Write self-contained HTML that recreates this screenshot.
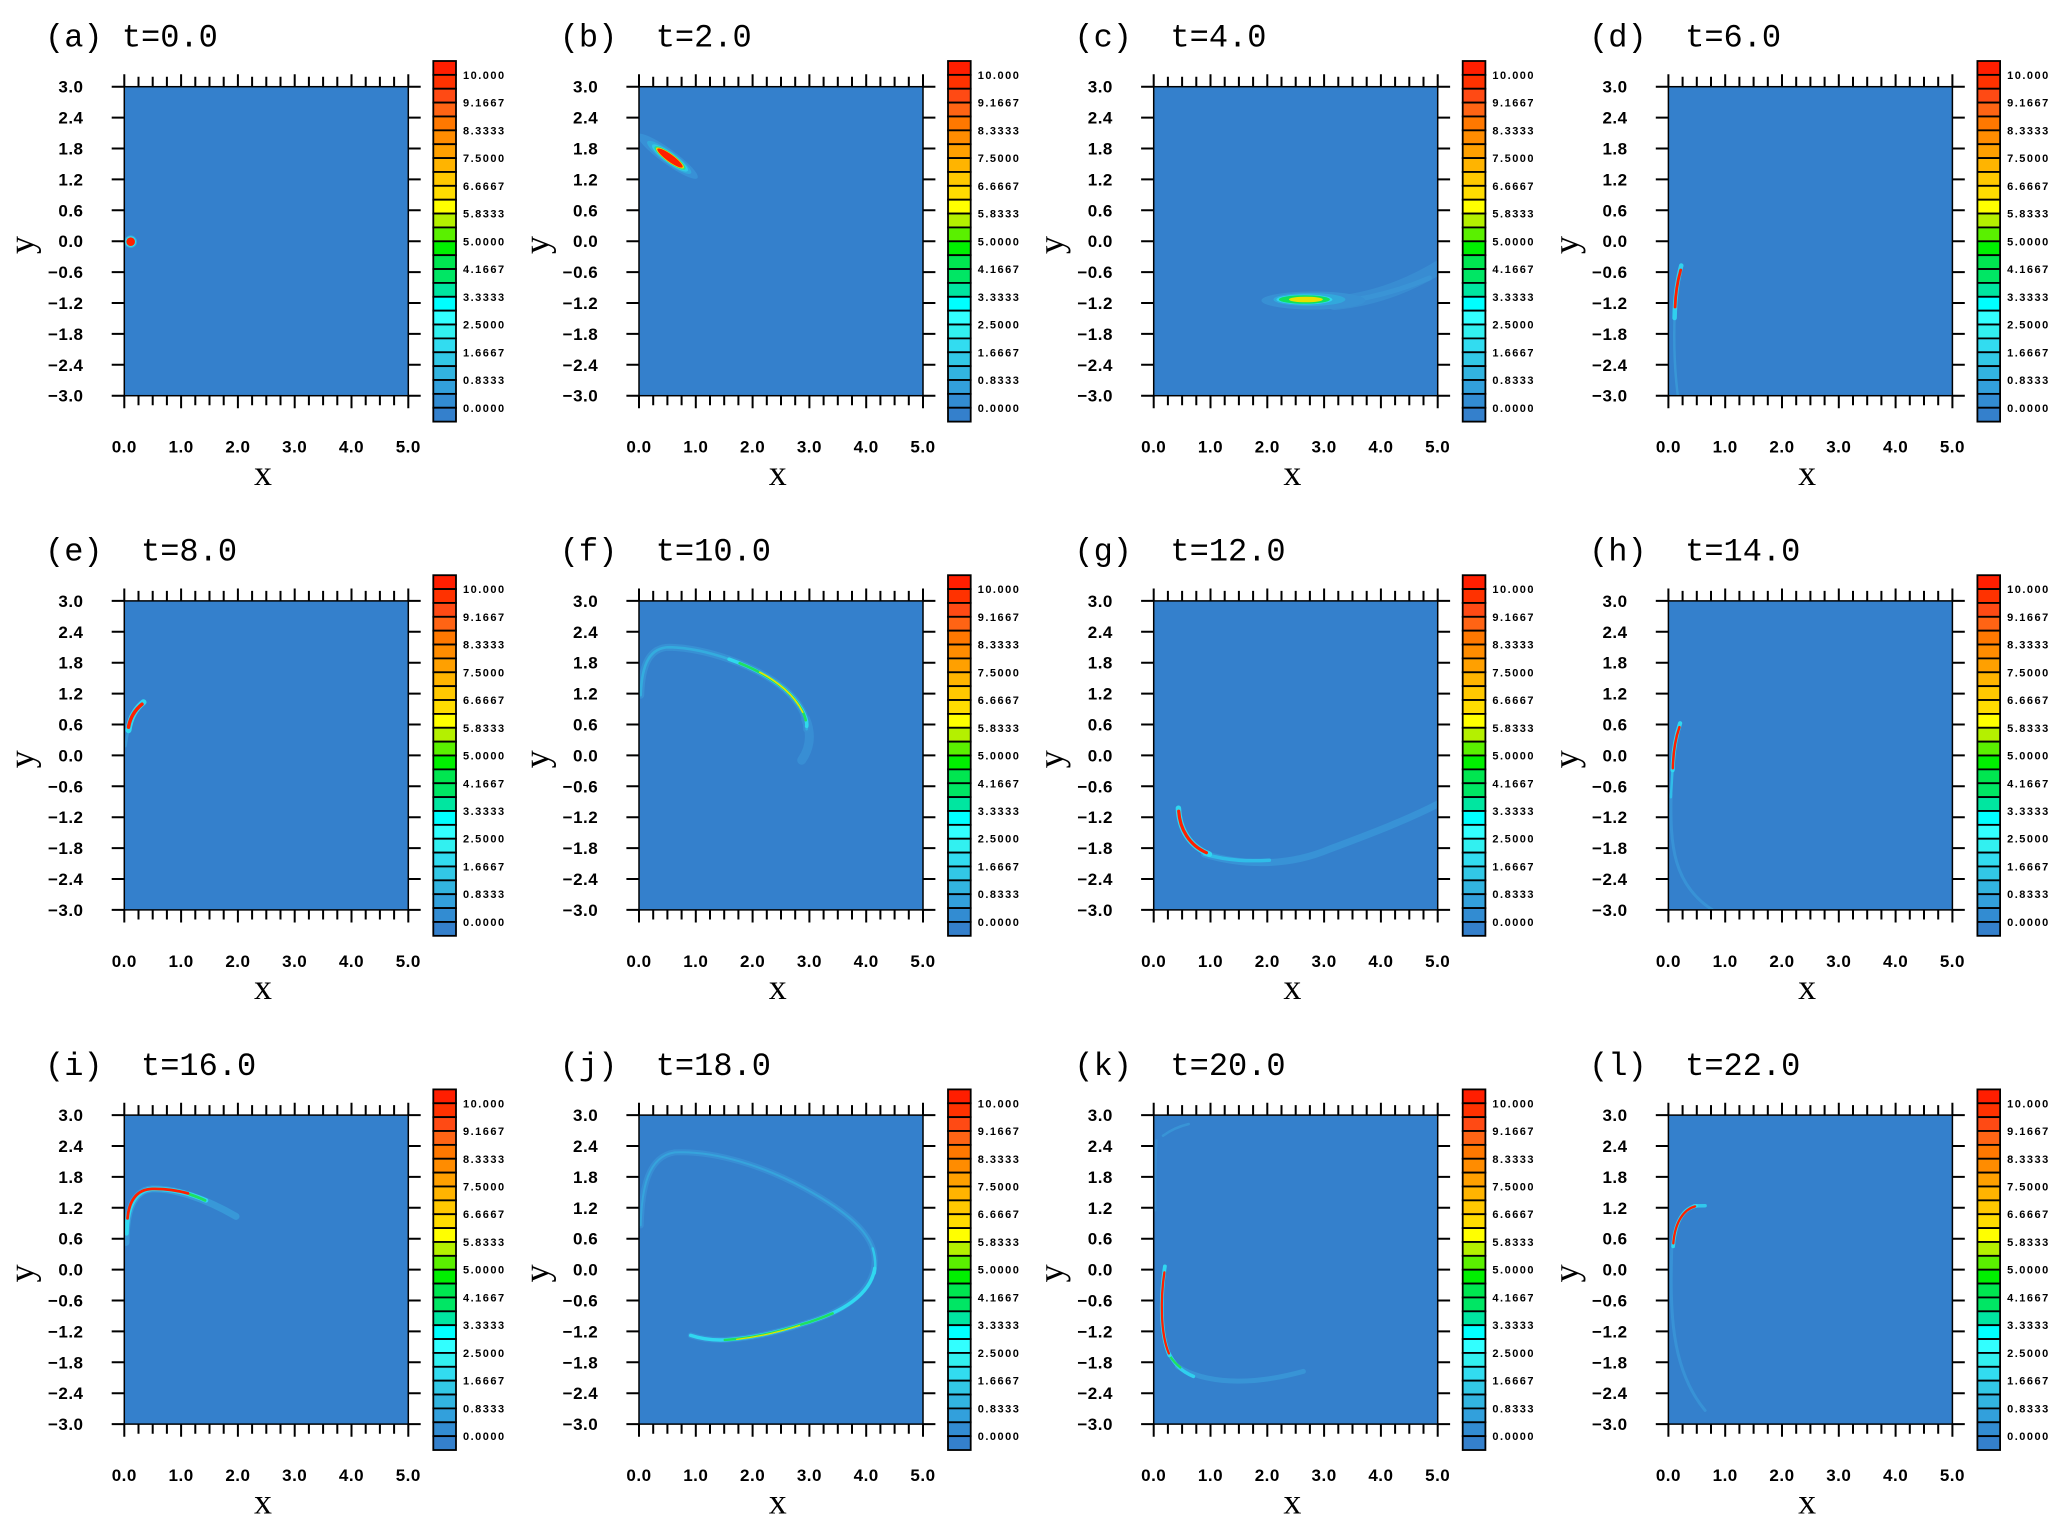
<!DOCTYPE html>
<html>
<head>
<meta charset="utf-8">
<style>
html,body{margin:0;padding:0;background:#fff;}
svg{display:block;}
.t{font-family:"Liberation Mono",monospace;font-size:32px;white-space:pre;fill:#000;}
.yl{font-family:"Liberation Sans",sans-serif;font-weight:bold;font-size:17px;text-anchor:end;letter-spacing:0.5px;fill:#000;}
.xl{font-family:"Liberation Sans",sans-serif;font-weight:bold;font-size:17px;text-anchor:middle;letter-spacing:0.5px;fill:#000;}
.cl{font-family:"Liberation Sans",sans-serif;font-weight:bold;font-size:11px;letter-spacing:1.5px;fill:#000;}
.ax{font-family:"Liberation Serif",serif;font-size:36px;text-anchor:middle;fill:#000;}
.s{fill:none;stroke-linecap:round;stroke-linejoin:round;}
</style>
</head>
<body>
<svg width="2067" height="1532" viewBox="0 0 2067 1532" xmlns="http://www.w3.org/2000/svg" xmlns:xlink="http://www.w3.org/1999/xlink">
<defs>
<clipPath id="pc"><rect x="124.3" y="86.7" width="284" height="309"/></clipPath>
<rect id="bg" x="124.3" y="86.7" width="284" height="309" fill="#3480cc"/>
<g id="ax">
<rect x="124.3" y="86.7" width="284" height="309" fill="none" stroke="#000" stroke-width="1.5"/>
<path fill="none" stroke="#000" stroke-width="2" d="M124.3 86.7V74.3M181.1 86.7V74.3M237.9 86.7V74.3M294.7 86.7V74.3M351.5 86.7V74.3M408.3 86.7V74.3M138.5 86.7V76.7M152.7 86.7V76.7M166.9 86.7V76.7M195.3 86.7V76.7M209.5 86.7V76.7M223.7 86.7V76.7M252.1 86.7V76.7M266.3 86.7V76.7M280.5 86.7V76.7M308.9 86.7V76.7M323.1 86.7V76.7M337.3 86.7V76.7M365.7 86.7V76.7M379.9 86.7V76.7M394.1 86.7V76.7M124.3 395.7V408.3M181.1 395.7V408.3M237.9 395.7V408.3M294.7 395.7V408.3M351.5 395.7V408.3M408.3 395.7V408.3M138.5 395.7V405.3M152.7 395.7V405.3M166.9 395.7V405.3M195.3 395.7V405.3M209.5 395.7V405.3M223.7 395.7V405.3M252.1 395.7V405.3M266.3 395.7V405.3M280.5 395.7V405.3M308.9 395.7V405.3M323.1 395.7V405.3M337.3 395.7V405.3M365.7 395.7V405.3M379.9 395.7V405.3M394.1 395.7V405.3M111.7 86.7H124.3M111.7 117.6H124.3M111.7 148.5H124.3M111.7 179.4H124.3M111.7 210.3H124.3M111.7 241.2H124.3M111.7 272.1H124.3M111.7 303H124.3M111.7 333.9H124.3M111.7 364.8H124.3M111.7 395.7H124.3M408.3 86.7H420.7M408.3 117.6H420.7M408.3 148.5H420.7M408.3 179.4H420.7M408.3 210.3H420.7M408.3 241.2H420.7M408.3 272.1H420.7M408.3 303H420.7M408.3 333.9H420.7M408.3 364.8H420.7M408.3 395.7H420.7"/>
</g>
<g id="cb" stroke="#000" stroke-width="1.8">
<rect x="433.3" y="61" width="22.7" height="13.87" fill="#ff1e00"/>
<rect x="433.3" y="74.87" width="22.7" height="13.87" fill="#ff3200"/>
<rect x="433.3" y="88.74" width="22.7" height="13.87" fill="#ff4a14"/>
<rect x="433.3" y="102.61" width="22.7" height="13.87" fill="#ff6414"/>
<rect x="433.3" y="116.48" width="22.7" height="13.87" fill="#ff7800"/>
<rect x="433.3" y="130.35" width="22.7" height="13.87" fill="#ff8c00"/>
<rect x="433.3" y="144.22" width="22.7" height="13.87" fill="#ffa000"/>
<rect x="433.3" y="158.09" width="22.7" height="13.87" fill="#ffb400"/>
<rect x="433.3" y="171.96" width="22.7" height="13.87" fill="#ffc800"/>
<rect x="433.3" y="185.83" width="22.7" height="13.87" fill="#ffdc00"/>
<rect x="433.3" y="199.7" width="22.7" height="13.87" fill="#ffff00"/>
<rect x="433.3" y="213.57" width="22.7" height="13.87" fill="#b4f000"/>
<rect x="433.3" y="227.44" width="22.7" height="13.87" fill="#5af000"/>
<rect x="433.3" y="241.31" width="22.7" height="13.87" fill="#00f000"/>
<rect x="433.3" y="255.18" width="22.7" height="13.87" fill="#00e650"/>
<rect x="433.3" y="269.05" width="22.7" height="13.87" fill="#00e664"/>
<rect x="433.3" y="282.92" width="22.7" height="13.87" fill="#00e6a0"/>
<rect x="433.3" y="296.79" width="22.7" height="13.87" fill="#00ffff"/>
<rect x="433.3" y="310.66" width="22.7" height="13.87" fill="#32ffff"/>
<rect x="433.3" y="324.53" width="22.7" height="13.87" fill="#32f0f0"/>
<rect x="433.3" y="338.4" width="22.7" height="13.87" fill="#32dcf0"/>
<rect x="433.3" y="352.27" width="22.7" height="13.87" fill="#32c8e6"/>
<rect x="433.3" y="366.14" width="22.7" height="13.87" fill="#32b4e0"/>
<rect x="433.3" y="380.01" width="22.7" height="13.87" fill="#32a0dc"/>
<rect x="433.3" y="393.88" width="22.7" height="13.87" fill="#328cd2"/>
<rect x="433.3" y="407.75" width="22.7" height="13.87" fill="#3480cc"/>
</g>
</defs>

<!-- (a) -->
<g transform="translate(0,0)">
<use href="#bg" xlink:href="#bg"/>
<g clip-path="url(#pc)">
<circle cx="130.7" cy="241.7" r="6.3" fill="#32a8dc"/>
<circle cx="130.7" cy="241.7" r="5.3" fill="#30e0f0"/>
<circle cx="130.7" cy="241.7" r="4.3" fill="#ff2000"/>
</g>
<use href="#ax" xlink:href="#ax"/>
<use href="#cb" xlink:href="#cb"/>
<text class="t" x="45" y="46.5">(a) t=0.0</text>
<text class="yl"><tspan x="83.5" y="92.7">3.0</tspan><tspan x="83.5" y="123.6">2.4</tspan><tspan x="83.5" y="154.5">1.8</tspan><tspan x="83.5" y="185.4">1.2</tspan><tspan x="83.5" y="216.3">0.6</tspan><tspan x="83.5" y="247.2">0.0</tspan><tspan x="83.5" y="278.1">−0.6</tspan><tspan x="83.5" y="309">−1.2</tspan><tspan x="83.5" y="339.9">−1.8</tspan><tspan x="83.5" y="370.8">−2.4</tspan><tspan x="83.5" y="401.7">−3.0</tspan></text>
<text class="xl"><tspan x="124.3" y="452.7">0.0</tspan><tspan x="181.1" y="452.7">1.0</tspan><tspan x="237.9" y="452.7">2.0</tspan><tspan x="294.7" y="452.7">3.0</tspan><tspan x="351.5" y="452.7">4.0</tspan><tspan x="408.3" y="452.7">5.0</tspan></text>
<text class="cl"><tspan x="463" y="78.9">10.000</tspan><tspan x="463" y="106.6">9.1667</tspan><tspan x="463" y="134.4">8.3333</tspan><tspan x="463" y="162.1">7.5000</tspan><tspan x="463" y="189.8">6.6667</tspan><tspan x="463" y="217.6">5.8333</tspan><tspan x="463" y="245.3">5.0000</tspan><tspan x="463" y="273.1">4.1667</tspan><tspan x="463" y="300.8">3.3333</tspan><tspan x="463" y="328.5">2.5000</tspan><tspan x="463" y="356.3">1.6667</tspan><tspan x="463" y="384">0.8333</tspan><tspan x="463" y="411.8">0.0000</tspan></text>
<text class="ax" x="263" y="485">x</text>
<text class="ax" transform="translate(33.7,245) rotate(-90)">y</text>
</g>

<!-- (b) -->
<g transform="translate(514.7,0)">
<use href="#bg" xlink:href="#bg"/>
<g clip-path="url(#pc)">
<g transform="translate(155.3,158) rotate(36)">
<ellipse cx="-3" cy="0" rx="37" ry="7.5" fill="#3890d6"/>
<ellipse cx="-1" cy="0" rx="27" ry="6" fill="#32a8dc"/>
<ellipse cx="0" cy="0" rx="22" ry="5.3" fill="#32c8e6"/>
<ellipse cx="0" cy="0" rx="19" ry="4.7" fill="#20e090"/>
<ellipse cx="0" cy="0" rx="17" ry="4.1" fill="#ffd000"/>
<ellipse cx="0" cy="0" rx="15.5" ry="3.5" fill="#ff2000"/>
</g>
</g>
<use href="#ax" xlink:href="#ax"/>
<use href="#cb" xlink:href="#cb"/>
<text class="t" x="45" y="46.5">(b)  t=2.0</text>
<text class="yl"><tspan x="83.5" y="92.7">3.0</tspan><tspan x="83.5" y="123.6">2.4</tspan><tspan x="83.5" y="154.5">1.8</tspan><tspan x="83.5" y="185.4">1.2</tspan><tspan x="83.5" y="216.3">0.6</tspan><tspan x="83.5" y="247.2">0.0</tspan><tspan x="83.5" y="278.1">−0.6</tspan><tspan x="83.5" y="309">−1.2</tspan><tspan x="83.5" y="339.9">−1.8</tspan><tspan x="83.5" y="370.8">−2.4</tspan><tspan x="83.5" y="401.7">−3.0</tspan></text>
<text class="xl"><tspan x="124.3" y="452.7">0.0</tspan><tspan x="181.1" y="452.7">1.0</tspan><tspan x="237.9" y="452.7">2.0</tspan><tspan x="294.7" y="452.7">3.0</tspan><tspan x="351.5" y="452.7">4.0</tspan><tspan x="408.3" y="452.7">5.0</tspan></text>
<text class="cl"><tspan x="463" y="78.9">10.000</tspan><tspan x="463" y="106.6">9.1667</tspan><tspan x="463" y="134.4">8.3333</tspan><tspan x="463" y="162.1">7.5000</tspan><tspan x="463" y="189.8">6.6667</tspan><tspan x="463" y="217.6">5.8333</tspan><tspan x="463" y="245.3">5.0000</tspan><tspan x="463" y="273.1">4.1667</tspan><tspan x="463" y="300.8">3.3333</tspan><tspan x="463" y="328.5">2.5000</tspan><tspan x="463" y="356.3">1.6667</tspan><tspan x="463" y="384">0.8333</tspan><tspan x="463" y="411.8">0.0000</tspan></text>
<text class="ax" x="263" y="485">x</text>
<text class="ax" transform="translate(33.7,245) rotate(-90)">y</text>
</g>

<!-- (c) -->
<g transform="translate(1029.4,0)">
<use href="#bg" xlink:href="#bg"/>
<g clip-path="url(#pc)">
<path class="s" d="M305,303 Q360,298 412,266" stroke="#388cd2" stroke-width="14"/>
<path class="s" d="M310,302 Q355,297 400,278" stroke="#3a94d6" stroke-width="5"/>
<g transform="translate(275,299.5)">
<ellipse cx="9" cy="1" rx="52" ry="9" fill="#3890d4"/>
<ellipse cx="5" cy="0" rx="36" ry="6.5" fill="#32a8dc"/>
<ellipse cx="0" cy="0" rx="28" ry="5" fill="#30d4ee"/>
<ellipse cx="0" cy="0" rx="25.5" ry="4.3" fill="#10e060"/>
<ellipse cx="1.5" cy="0" rx="17" ry="2.8" fill="#e8e000"/>
</g>
</g>
<use href="#ax" xlink:href="#ax"/>
<use href="#cb" xlink:href="#cb"/>
<text class="t" x="45" y="46.5">(c)  t=4.0</text>
<text class="yl"><tspan x="83.5" y="92.7">3.0</tspan><tspan x="83.5" y="123.6">2.4</tspan><tspan x="83.5" y="154.5">1.8</tspan><tspan x="83.5" y="185.4">1.2</tspan><tspan x="83.5" y="216.3">0.6</tspan><tspan x="83.5" y="247.2">0.0</tspan><tspan x="83.5" y="278.1">−0.6</tspan><tspan x="83.5" y="309">−1.2</tspan><tspan x="83.5" y="339.9">−1.8</tspan><tspan x="83.5" y="370.8">−2.4</tspan><tspan x="83.5" y="401.7">−3.0</tspan></text>
<text class="xl"><tspan x="124.3" y="452.7">0.0</tspan><tspan x="181.1" y="452.7">1.0</tspan><tspan x="237.9" y="452.7">2.0</tspan><tspan x="294.7" y="452.7">3.0</tspan><tspan x="351.5" y="452.7">4.0</tspan><tspan x="408.3" y="452.7">5.0</tspan></text>
<text class="cl"><tspan x="463" y="78.9">10.000</tspan><tspan x="463" y="106.6">9.1667</tspan><tspan x="463" y="134.4">8.3333</tspan><tspan x="463" y="162.1">7.5000</tspan><tspan x="463" y="189.8">6.6667</tspan><tspan x="463" y="217.6">5.8333</tspan><tspan x="463" y="245.3">5.0000</tspan><tspan x="463" y="273.1">4.1667</tspan><tspan x="463" y="300.8">3.3333</tspan><tspan x="463" y="328.5">2.5000</tspan><tspan x="463" y="356.3">1.6667</tspan><tspan x="463" y="384">0.8333</tspan><tspan x="463" y="411.8">0.0000</tspan></text>
<text class="ax" x="263" y="485">x</text>
<text class="ax" transform="translate(33.7,245) rotate(-90)">y</text>
</g>

<!-- (d) -->
<g transform="translate(1544.1,0)">
<use href="#bg" xlink:href="#bg"/>
<g clip-path="url(#pc)">
<path class="s" d="M130.5,316 Q129,360 134,398" stroke="#3896d6" stroke-width="2.5"/>
<path class="s" d="M137.2,265.5 Q131,288 130.5,318" stroke="#30d0ee" stroke-width="4.5"/>
<path class="s" d="M136.6,270 Q131.5,288 131,307" stroke="#ff2000" stroke-width="2.8"/>
</g>
<use href="#ax" xlink:href="#ax"/>
<use href="#cb" xlink:href="#cb"/>
<text class="t" x="45" y="46.5">(d)  t=6.0</text>
<text class="yl"><tspan x="83.5" y="92.7">3.0</tspan><tspan x="83.5" y="123.6">2.4</tspan><tspan x="83.5" y="154.5">1.8</tspan><tspan x="83.5" y="185.4">1.2</tspan><tspan x="83.5" y="216.3">0.6</tspan><tspan x="83.5" y="247.2">0.0</tspan><tspan x="83.5" y="278.1">−0.6</tspan><tspan x="83.5" y="309">−1.2</tspan><tspan x="83.5" y="339.9">−1.8</tspan><tspan x="83.5" y="370.8">−2.4</tspan><tspan x="83.5" y="401.7">−3.0</tspan></text>
<text class="xl"><tspan x="124.3" y="452.7">0.0</tspan><tspan x="181.1" y="452.7">1.0</tspan><tspan x="237.9" y="452.7">2.0</tspan><tspan x="294.7" y="452.7">3.0</tspan><tspan x="351.5" y="452.7">4.0</tspan><tspan x="408.3" y="452.7">5.0</tspan></text>
<text class="cl"><tspan x="463" y="78.9">10.000</tspan><tspan x="463" y="106.6">9.1667</tspan><tspan x="463" y="134.4">8.3333</tspan><tspan x="463" y="162.1">7.5000</tspan><tspan x="463" y="189.8">6.6667</tspan><tspan x="463" y="217.6">5.8333</tspan><tspan x="463" y="245.3">5.0000</tspan><tspan x="463" y="273.1">4.1667</tspan><tspan x="463" y="300.8">3.3333</tspan><tspan x="463" y="328.5">2.5000</tspan><tspan x="463" y="356.3">1.6667</tspan><tspan x="463" y="384">0.8333</tspan><tspan x="463" y="411.8">0.0000</tspan></text>
<text class="ax" x="263" y="485">x</text>
<text class="ax" transform="translate(33.7,245) rotate(-90)">y</text>
</g>

<!-- (e) -->
<g transform="translate(0,514.2)">
<use href="#bg" xlink:href="#bg"/>
<g clip-path="url(#pc)">
<path class="s" d="M128.5,214 L125.5,232" stroke="#3898d8" stroke-width="2.5"/>
<path class="s" d="M143.5,188 Q131,198 128.5,216" stroke="#30d8f0" stroke-width="6"/>
<path class="s" d="M142,190 Q131,199 128.5,213" stroke="#ff2000" stroke-width="3.5"/>
</g>
<use href="#ax" xlink:href="#ax"/>
<use href="#cb" xlink:href="#cb"/>
<text class="t" x="45" y="46.5">(e)  t=8.0</text>
<text class="yl"><tspan x="83.5" y="92.7">3.0</tspan><tspan x="83.5" y="123.6">2.4</tspan><tspan x="83.5" y="154.5">1.8</tspan><tspan x="83.5" y="185.4">1.2</tspan><tspan x="83.5" y="216.3">0.6</tspan><tspan x="83.5" y="247.2">0.0</tspan><tspan x="83.5" y="278.1">−0.6</tspan><tspan x="83.5" y="309">−1.2</tspan><tspan x="83.5" y="339.9">−1.8</tspan><tspan x="83.5" y="370.8">−2.4</tspan><tspan x="83.5" y="401.7">−3.0</tspan></text>
<text class="xl"><tspan x="124.3" y="452.7">0.0</tspan><tspan x="181.1" y="452.7">1.0</tspan><tspan x="237.9" y="452.7">2.0</tspan><tspan x="294.7" y="452.7">3.0</tspan><tspan x="351.5" y="452.7">4.0</tspan><tspan x="408.3" y="452.7">5.0</tspan></text>
<text class="cl"><tspan x="463" y="78.9">10.000</tspan><tspan x="463" y="106.6">9.1667</tspan><tspan x="463" y="134.4">8.3333</tspan><tspan x="463" y="162.1">7.5000</tspan><tspan x="463" y="189.8">6.6667</tspan><tspan x="463" y="217.6">5.8333</tspan><tspan x="463" y="245.3">5.0000</tspan><tspan x="463" y="273.1">4.1667</tspan><tspan x="463" y="300.8">3.3333</tspan><tspan x="463" y="328.5">2.5000</tspan><tspan x="463" y="356.3">1.6667</tspan><tspan x="463" y="384">0.8333</tspan><tspan x="463" y="411.8">0.0000</tspan></text>
<text class="ax" x="263" y="485">x</text>
<text class="ax" transform="translate(33.7,245) rotate(-90)">y</text>
</g>

<!-- (f) -->
<g transform="translate(514.7,514.2)">
<use href="#bg" xlink:href="#bg"/>
<g clip-path="url(#pc)">
<path class="s" d="M291,205 C298,222 294,236 287,246" stroke="#388ed4" stroke-width="9"/>
<path class="s" d="M126,181 C127,150 135,133 155,133 C190,134 240,150 270,175 C285,188 293,203 292,215" stroke="#3890d4" stroke-width="7"/>
<path class="s" d="M126,181 C127,150 135,133 155,133 C190,134 240,150 270,175 C285,188 293,203 292,215" stroke="#34acde" stroke-width="2.6"/>
<path class="s" d="M214.4,145 C235,152.25 255,162.5 270,175 C285,188 293,203 292,212" stroke="#30d8ec" stroke-width="3.6"/>
<path class="s" d="M225,149 C240,155 257,164 270,175 C282,186 289,197 291,206" stroke="#20e060" stroke-width="2.6"/>
<path class="s" d="M245,158 C255,163 263,169 270,175 C278,182 284,190 288,198" stroke="#f0e000" stroke-width="1.6"/>
</g>
<use href="#ax" xlink:href="#ax"/>
<use href="#cb" xlink:href="#cb"/>
<text class="t" x="45" y="46.5">(f)  t=10.0</text>
<text class="yl"><tspan x="83.5" y="92.7">3.0</tspan><tspan x="83.5" y="123.6">2.4</tspan><tspan x="83.5" y="154.5">1.8</tspan><tspan x="83.5" y="185.4">1.2</tspan><tspan x="83.5" y="216.3">0.6</tspan><tspan x="83.5" y="247.2">0.0</tspan><tspan x="83.5" y="278.1">−0.6</tspan><tspan x="83.5" y="309">−1.2</tspan><tspan x="83.5" y="339.9">−1.8</tspan><tspan x="83.5" y="370.8">−2.4</tspan><tspan x="83.5" y="401.7">−3.0</tspan></text>
<text class="xl"><tspan x="124.3" y="452.7">0.0</tspan><tspan x="181.1" y="452.7">1.0</tspan><tspan x="237.9" y="452.7">2.0</tspan><tspan x="294.7" y="452.7">3.0</tspan><tspan x="351.5" y="452.7">4.0</tspan><tspan x="408.3" y="452.7">5.0</tspan></text>
<text class="cl"><tspan x="463" y="78.9">10.000</tspan><tspan x="463" y="106.6">9.1667</tspan><tspan x="463" y="134.4">8.3333</tspan><tspan x="463" y="162.1">7.5000</tspan><tspan x="463" y="189.8">6.6667</tspan><tspan x="463" y="217.6">5.8333</tspan><tspan x="463" y="245.3">5.0000</tspan><tspan x="463" y="273.1">4.1667</tspan><tspan x="463" y="300.8">3.3333</tspan><tspan x="463" y="328.5">2.5000</tspan><tspan x="463" y="356.3">1.6667</tspan><tspan x="463" y="384">0.8333</tspan><tspan x="463" y="411.8">0.0000</tspan></text>
<text class="ax" x="263" y="485">x</text>
<text class="ax" transform="translate(33.7,245) rotate(-90)">y</text>
</g>

<!-- (g) -->
<g transform="translate(1029.4,514.2)">
<use href="#bg" xlink:href="#bg"/>
<g clip-path="url(#pc)">
<path class="s" d="M175,340 C215,352 260,352 300,335 C340,320 380,305 412,288" stroke="#3892d6" stroke-width="7"/>
<path class="s" d="M175,340 C200,347 220,347 240,346" stroke="#30bde8" stroke-width="3.5"/>
<path class="s" d="M149,294 C150,315 160,332 180,340" stroke="#30d8f0" stroke-width="5.5"/>
<path class="s" d="M149.3,297 C150.5,315 160,331 177,338.5" stroke="#ff2000" stroke-width="3.2"/>
</g>
<use href="#ax" xlink:href="#ax"/>
<use href="#cb" xlink:href="#cb"/>
<text class="t" x="45" y="46.5">(g)  t=12.0</text>
<text class="yl"><tspan x="83.5" y="92.7">3.0</tspan><tspan x="83.5" y="123.6">2.4</tspan><tspan x="83.5" y="154.5">1.8</tspan><tspan x="83.5" y="185.4">1.2</tspan><tspan x="83.5" y="216.3">0.6</tspan><tspan x="83.5" y="247.2">0.0</tspan><tspan x="83.5" y="278.1">−0.6</tspan><tspan x="83.5" y="309">−1.2</tspan><tspan x="83.5" y="339.9">−1.8</tspan><tspan x="83.5" y="370.8">−2.4</tspan><tspan x="83.5" y="401.7">−3.0</tspan></text>
<text class="xl"><tspan x="124.3" y="452.7">0.0</tspan><tspan x="181.1" y="452.7">1.0</tspan><tspan x="237.9" y="452.7">2.0</tspan><tspan x="294.7" y="452.7">3.0</tspan><tspan x="351.5" y="452.7">4.0</tspan><tspan x="408.3" y="452.7">5.0</tspan></text>
<text class="cl"><tspan x="463" y="78.9">10.000</tspan><tspan x="463" y="106.6">9.1667</tspan><tspan x="463" y="134.4">8.3333</tspan><tspan x="463" y="162.1">7.5000</tspan><tspan x="463" y="189.8">6.6667</tspan><tspan x="463" y="217.6">5.8333</tspan><tspan x="463" y="245.3">5.0000</tspan><tspan x="463" y="273.1">4.1667</tspan><tspan x="463" y="300.8">3.3333</tspan><tspan x="463" y="328.5">2.5000</tspan><tspan x="463" y="356.3">1.6667</tspan><tspan x="463" y="384">0.8333</tspan><tspan x="463" y="411.8">0.0000</tspan></text>
<text class="ax" x="263" y="485">x</text>
<text class="ax" transform="translate(33.7,245) rotate(-90)">y</text>
</g>

<!-- (h) -->
<g transform="translate(1544.1,514.2)">
<use href="#bg" xlink:href="#bg"/>
<g clip-path="url(#pc)">
<path class="s" d="M127,280 C126,330 128,372 172,398" stroke="#3892d6" stroke-width="3"/>
<path class="s" d="M128.5,254 L126.8,283" stroke="#30bde8" stroke-width="2.5"/>
<path class="s" d="M136,209 Q129,230 128.5,256" stroke="#30d8f0" stroke-width="4.2"/>
<path class="s" d="M135.3,213 Q129.3,230 128.7,254" stroke="#ff2000" stroke-width="2.5"/>
</g>
<use href="#ax" xlink:href="#ax"/>
<use href="#cb" xlink:href="#cb"/>
<text class="t" x="45" y="46.5">(h)  t=14.0</text>
<text class="yl"><tspan x="83.5" y="92.7">3.0</tspan><tspan x="83.5" y="123.6">2.4</tspan><tspan x="83.5" y="154.5">1.8</tspan><tspan x="83.5" y="185.4">1.2</tspan><tspan x="83.5" y="216.3">0.6</tspan><tspan x="83.5" y="247.2">0.0</tspan><tspan x="83.5" y="278.1">−0.6</tspan><tspan x="83.5" y="309">−1.2</tspan><tspan x="83.5" y="339.9">−1.8</tspan><tspan x="83.5" y="370.8">−2.4</tspan><tspan x="83.5" y="401.7">−3.0</tspan></text>
<text class="xl"><tspan x="124.3" y="452.7">0.0</tspan><tspan x="181.1" y="452.7">1.0</tspan><tspan x="237.9" y="452.7">2.0</tspan><tspan x="294.7" y="452.7">3.0</tspan><tspan x="351.5" y="452.7">4.0</tspan><tspan x="408.3" y="452.7">5.0</tspan></text>
<text class="cl"><tspan x="463" y="78.9">10.000</tspan><tspan x="463" y="106.6">9.1667</tspan><tspan x="463" y="134.4">8.3333</tspan><tspan x="463" y="162.1">7.5000</tspan><tspan x="463" y="189.8">6.6667</tspan><tspan x="463" y="217.6">5.8333</tspan><tspan x="463" y="245.3">5.0000</tspan><tspan x="463" y="273.1">4.1667</tspan><tspan x="463" y="300.8">3.3333</tspan><tspan x="463" y="328.5">2.5000</tspan><tspan x="463" y="356.3">1.6667</tspan><tspan x="463" y="384">0.8333</tspan><tspan x="463" y="411.8">0.0000</tspan></text>
<text class="ax" x="263" y="485">x</text>
<text class="ax" transform="translate(33.7,245) rotate(-90)">y</text>
</g>

<!-- (i) -->
<g transform="translate(0,1028.4)">
<use href="#bg" xlink:href="#bg"/>
<g clip-path="url(#pc)">
<path class="s" d="M126,214 C126,185 132,162 152,160.5 C175,160 205,170 236,188" stroke="#3898d8" stroke-width="7"/>
<path class="s" d="M126.5,205 C127,182 133,162 152,160.5 C172,160 190,165 206,172" stroke="#30d8f0" stroke-width="4.5"/>
<path class="s" d="M190,166 C196,168 201,170 205,172" stroke="#20e060" stroke-width="2.8"/>
<path class="s" d="M127.5,190 C129,172 137,161 152,160.5 C165,160.2 177,162 188,165" stroke="#ff2000" stroke-width="2.8"/>
</g>
<use href="#ax" xlink:href="#ax"/>
<use href="#cb" xlink:href="#cb"/>
<text class="t" x="45" y="46.5">(i)  t=16.0</text>
<text class="yl"><tspan x="83.5" y="92.7">3.0</tspan><tspan x="83.5" y="123.6">2.4</tspan><tspan x="83.5" y="154.5">1.8</tspan><tspan x="83.5" y="185.4">1.2</tspan><tspan x="83.5" y="216.3">0.6</tspan><tspan x="83.5" y="247.2">0.0</tspan><tspan x="83.5" y="278.1">−0.6</tspan><tspan x="83.5" y="309">−1.2</tspan><tspan x="83.5" y="339.9">−1.8</tspan><tspan x="83.5" y="370.8">−2.4</tspan><tspan x="83.5" y="401.7">−3.0</tspan></text>
<text class="xl"><tspan x="124.3" y="452.7">0.0</tspan><tspan x="181.1" y="452.7">1.0</tspan><tspan x="237.9" y="452.7">2.0</tspan><tspan x="294.7" y="452.7">3.0</tspan><tspan x="351.5" y="452.7">4.0</tspan><tspan x="408.3" y="452.7">5.0</tspan></text>
<text class="cl"><tspan x="463" y="78.9">10.000</tspan><tspan x="463" y="106.6">9.1667</tspan><tspan x="463" y="134.4">8.3333</tspan><tspan x="463" y="162.1">7.5000</tspan><tspan x="463" y="189.8">6.6667</tspan><tspan x="463" y="217.6">5.8333</tspan><tspan x="463" y="245.3">5.0000</tspan><tspan x="463" y="273.1">4.1667</tspan><tspan x="463" y="300.8">3.3333</tspan><tspan x="463" y="328.5">2.5000</tspan><tspan x="463" y="356.3">1.6667</tspan><tspan x="463" y="384">0.8333</tspan><tspan x="463" y="411.8">0.0000</tspan></text>
<text class="ax" x="263" y="485">x</text>
<text class="ax" transform="translate(33.7,245) rotate(-90)">y</text>
</g>

<!-- (j) -->
<g transform="translate(514.7,1028.4)">
<use href="#bg" xlink:href="#bg"/>
<g clip-path="url(#pc)">
<path class="s" d="M126,197 C127,160 133,128 160,124 C200,122 250,138 290,160 C330,182 360,205 360,232 C360,262 330,283 290,295 C260,305 235,310 210,311.5 C195,312 185,310 176,307" stroke="#388ed4" stroke-width="6"/>
<path class="s" d="M126,197 C127,160 133,128 160,124 C200,122 250,138 290,160 C330,182 360,205 360,232" stroke="#36a4dc" stroke-width="2"/>
<path class="s" d="M358,220 C361,230 361,238 360,245" stroke="#30c8ea" stroke-width="2.5"/>
<path class="s" d="M360,240 C356,266 328,284 290,295 C260,305 235,310 210,311.5 C195,312 185,310 176,307" stroke="#30d8f0" stroke-width="3.5"/>
<path class="s" d="M318,285 C305,290 298,293 290,295 C260,305 235,310 210,311.5" stroke="#20e060" stroke-width="2.4"/>
<path class="s" d="M285,297 C260,305 240,309 222,311" stroke="#e8e000" stroke-width="1.2"/>
</g>
<use href="#ax" xlink:href="#ax"/>
<use href="#cb" xlink:href="#cb"/>
<text class="t" x="45" y="46.5">(j)  t=18.0</text>
<text class="yl"><tspan x="83.5" y="92.7">3.0</tspan><tspan x="83.5" y="123.6">2.4</tspan><tspan x="83.5" y="154.5">1.8</tspan><tspan x="83.5" y="185.4">1.2</tspan><tspan x="83.5" y="216.3">0.6</tspan><tspan x="83.5" y="247.2">0.0</tspan><tspan x="83.5" y="278.1">−0.6</tspan><tspan x="83.5" y="309">−1.2</tspan><tspan x="83.5" y="339.9">−1.8</tspan><tspan x="83.5" y="370.8">−2.4</tspan><tspan x="83.5" y="401.7">−3.0</tspan></text>
<text class="xl"><tspan x="124.3" y="452.7">0.0</tspan><tspan x="181.1" y="452.7">1.0</tspan><tspan x="237.9" y="452.7">2.0</tspan><tspan x="294.7" y="452.7">3.0</tspan><tspan x="351.5" y="452.7">4.0</tspan><tspan x="408.3" y="452.7">5.0</tspan></text>
<text class="cl"><tspan x="463" y="78.9">10.000</tspan><tspan x="463" y="106.6">9.1667</tspan><tspan x="463" y="134.4">8.3333</tspan><tspan x="463" y="162.1">7.5000</tspan><tspan x="463" y="189.8">6.6667</tspan><tspan x="463" y="217.6">5.8333</tspan><tspan x="463" y="245.3">5.0000</tspan><tspan x="463" y="273.1">4.1667</tspan><tspan x="463" y="300.8">3.3333</tspan><tspan x="463" y="328.5">2.5000</tspan><tspan x="463" y="356.3">1.6667</tspan><tspan x="463" y="384">0.8333</tspan><tspan x="463" y="411.8">0.0000</tspan></text>
<text class="ax" x="263" y="485">x</text>
<text class="ax" transform="translate(33.7,245) rotate(-90)">y</text>
</g>

<!-- (k) -->
<g transform="translate(1029.4,1028.4)">
<use href="#bg" xlink:href="#bg"/>
<g clip-path="url(#pc)">
<path class="s" d="M133.6,107.3 Q145,99 159.3,95.6" stroke="#3894d6" stroke-width="2.5"/>
<path class="s" d="M127,112 C125.5,140 125.5,160 125.8,182" stroke="#368cd2" stroke-width="2.5"/>
<path class="s" d="M148,338 C175,355 220,358 274,343" stroke="#3894d6" stroke-width="5"/>
<path class="s" d="M139,324 C145,336 152,343 164,348" stroke="#30d0ee" stroke-width="3.5"/>
<path class="s" d="M140,327 C144,333 147,336 151,339" stroke="#20e060" stroke-width="2.3"/>
<path class="s" d="M135.5,238 C131,268 130.5,305 140,327" stroke="#30d8f0" stroke-width="3.8"/>
<path class="s" d="M135,244 C131,270 131,305 139.5,325" stroke="#ff2000" stroke-width="2.3"/>
</g>
<use href="#ax" xlink:href="#ax"/>
<use href="#cb" xlink:href="#cb"/>
<text class="t" x="45" y="46.5">(k)  t=20.0</text>
<text class="yl"><tspan x="83.5" y="92.7">3.0</tspan><tspan x="83.5" y="123.6">2.4</tspan><tspan x="83.5" y="154.5">1.8</tspan><tspan x="83.5" y="185.4">1.2</tspan><tspan x="83.5" y="216.3">0.6</tspan><tspan x="83.5" y="247.2">0.0</tspan><tspan x="83.5" y="278.1">−0.6</tspan><tspan x="83.5" y="309">−1.2</tspan><tspan x="83.5" y="339.9">−1.8</tspan><tspan x="83.5" y="370.8">−2.4</tspan><tspan x="83.5" y="401.7">−3.0</tspan></text>
<text class="xl"><tspan x="124.3" y="452.7">0.0</tspan><tspan x="181.1" y="452.7">1.0</tspan><tspan x="237.9" y="452.7">2.0</tspan><tspan x="294.7" y="452.7">3.0</tspan><tspan x="351.5" y="452.7">4.0</tspan><tspan x="408.3" y="452.7">5.0</tspan></text>
<text class="cl"><tspan x="463" y="78.9">10.000</tspan><tspan x="463" y="106.6">9.1667</tspan><tspan x="463" y="134.4">8.3333</tspan><tspan x="463" y="162.1">7.5000</tspan><tspan x="463" y="189.8">6.6667</tspan><tspan x="463" y="217.6">5.8333</tspan><tspan x="463" y="245.3">5.0000</tspan><tspan x="463" y="273.1">4.1667</tspan><tspan x="463" y="300.8">3.3333</tspan><tspan x="463" y="328.5">2.5000</tspan><tspan x="463" y="356.3">1.6667</tspan><tspan x="463" y="384">0.8333</tspan><tspan x="463" y="411.8">0.0000</tspan></text>
<text class="ax" x="263" y="485">x</text>
<text class="ax" transform="translate(33.7,245) rotate(-90)">y</text>
</g>

<!-- (l) -->
<g transform="translate(1544.1,1028.4)">
<use href="#bg" xlink:href="#bg"/>
<g clip-path="url(#pc)">
<path class="s" d="M127.6,221 C126,280 126,340 161,382" stroke="#3892d6" stroke-width="3"/>
<path class="s" d="M150,177.5 L161,177.3" stroke="#30c8ec" stroke-width="3.5"/>
<path class="s" d="M152,177.5 C140,180 131,192 129,218" stroke="#30d8f0" stroke-width="3.8"/>
<path class="s" d="M151,178 C140,181 131,193 129.2,215" stroke="#ff2000" stroke-width="2.3"/>
</g>
<use href="#ax" xlink:href="#ax"/>
<use href="#cb" xlink:href="#cb"/>
<text class="t" x="45" y="46.5">(l)  t=22.0</text>
<text class="yl"><tspan x="83.5" y="92.7">3.0</tspan><tspan x="83.5" y="123.6">2.4</tspan><tspan x="83.5" y="154.5">1.8</tspan><tspan x="83.5" y="185.4">1.2</tspan><tspan x="83.5" y="216.3">0.6</tspan><tspan x="83.5" y="247.2">0.0</tspan><tspan x="83.5" y="278.1">−0.6</tspan><tspan x="83.5" y="309">−1.2</tspan><tspan x="83.5" y="339.9">−1.8</tspan><tspan x="83.5" y="370.8">−2.4</tspan><tspan x="83.5" y="401.7">−3.0</tspan></text>
<text class="xl"><tspan x="124.3" y="452.7">0.0</tspan><tspan x="181.1" y="452.7">1.0</tspan><tspan x="237.9" y="452.7">2.0</tspan><tspan x="294.7" y="452.7">3.0</tspan><tspan x="351.5" y="452.7">4.0</tspan><tspan x="408.3" y="452.7">5.0</tspan></text>
<text class="cl"><tspan x="463" y="78.9">10.000</tspan><tspan x="463" y="106.6">9.1667</tspan><tspan x="463" y="134.4">8.3333</tspan><tspan x="463" y="162.1">7.5000</tspan><tspan x="463" y="189.8">6.6667</tspan><tspan x="463" y="217.6">5.8333</tspan><tspan x="463" y="245.3">5.0000</tspan><tspan x="463" y="273.1">4.1667</tspan><tspan x="463" y="300.8">3.3333</tspan><tspan x="463" y="328.5">2.5000</tspan><tspan x="463" y="356.3">1.6667</tspan><tspan x="463" y="384">0.8333</tspan><tspan x="463" y="411.8">0.0000</tspan></text>
<text class="ax" x="263" y="485">x</text>
<text class="ax" transform="translate(33.7,245) rotate(-90)">y</text>
</g>
</svg>
</body>
</html>
